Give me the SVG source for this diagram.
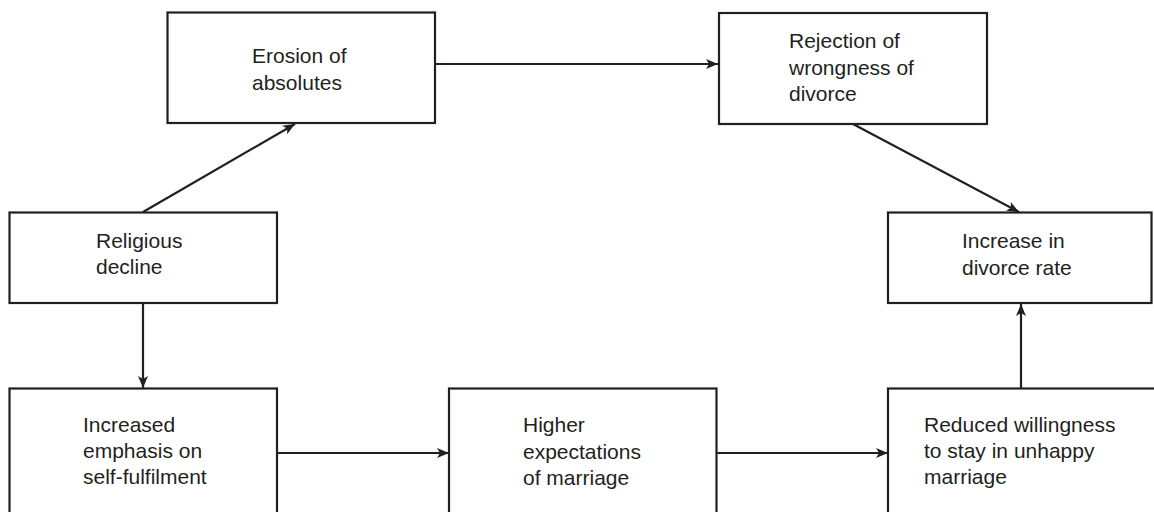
<svg xmlns="http://www.w3.org/2000/svg" width="1154" height="512" viewBox="0 0 1154 512">
  <style>
    .box { fill: #ffffff; stroke: #231f20; stroke-width: 2.2; }
    .lbl { font-family: "Liberation Sans", Arial, sans-serif; font-size: 21px; fill: #231f20; }
    .edge { fill: none; stroke: #231f20; stroke-width: 2.2; marker-end: url(#arrow); }
  </style>
  <defs>
    <marker id="arrow" viewBox="0 0 12 10" refX="12" refY="5" markerWidth="12" markerHeight="10" markerUnits="userSpaceOnUse" orient="auto">
      <path d="M0,0 L12,5 L0,10 L3,5 z" fill="#231f20"/>
    </marker>
  </defs>
  <rect width="1154" height="512" fill="#ffffff"/>

  <g id="connectors">
    <line class="edge" x1="143" y1="212" x2="295" y2="124"/>
    <line class="edge" x1="435" y1="64" x2="718" y2="64"/>
    <line class="edge" x1="853" y1="124" x2="1019" y2="212"/>
    <line class="edge" x1="143" y1="303" x2="143" y2="388"/>
    <line class="edge" x1="277" y1="453" x2="449" y2="453"/>
    <line class="edge" x1="716" y1="453" x2="888" y2="453"/>
    <line class="edge" x1="1021" y1="388" x2="1021" y2="304"/>
  </g>

  <g id="erosion">
    <rect class="box" x="167.5" y="12.5" width="267.5" height="110.5"/>
    <text class="lbl" x="252" y="63">Erosion of</text>
    <text class="lbl" x="252" y="90">absolutes</text>
  </g>

  <g id="rejection">
    <rect class="box" x="719" y="13" width="268" height="111"/>
    <text class="lbl" x="789" y="48">Rejection of</text>
    <text class="lbl" x="789" y="75">wrongness of</text>
    <text class="lbl" x="789" y="101">divorce</text>
  </g>

  <g id="religious">
    <rect class="box" x="9.5" y="212.5" width="267.5" height="90.5"/>
    <text class="lbl" x="96" y="248">Religious</text>
    <text class="lbl" x="96" y="274">decline</text>
  </g>

  <g id="increase">
    <rect class="box" x="888" y="212.5" width="263.5" height="90.5"/>
    <text class="lbl" x="962" y="248">Increase in</text>
    <text class="lbl" x="962" y="275">divorce rate</text>
  </g>

  <g id="increased">
    <rect class="box" x="9.5" y="388.5" width="267.5" height="140"/>
    <text class="lbl" x="83" y="432">Increased</text>
    <text class="lbl" x="83" y="458">emphasis on</text>
    <text class="lbl" x="83" y="484">self-fulfilment</text>
  </g>

  <g id="higher">
    <rect class="box" x="449" y="388.5" width="267.5" height="140"/>
    <text class="lbl" x="523" y="432">Higher</text>
    <text class="lbl" x="523" y="459">expectations</text>
    <text class="lbl" x="523" y="485">of marriage</text>
  </g>

  <g id="reduced">
    <rect class="box" x="888" y="388.5" width="270" height="140"/>
    <text class="lbl" x="924" y="432">Reduced willingness</text>
    <text class="lbl" x="924" y="458">to stay in unhappy</text>
    <text class="lbl" x="924" y="484">marriage</text>
  </g>
</svg>
